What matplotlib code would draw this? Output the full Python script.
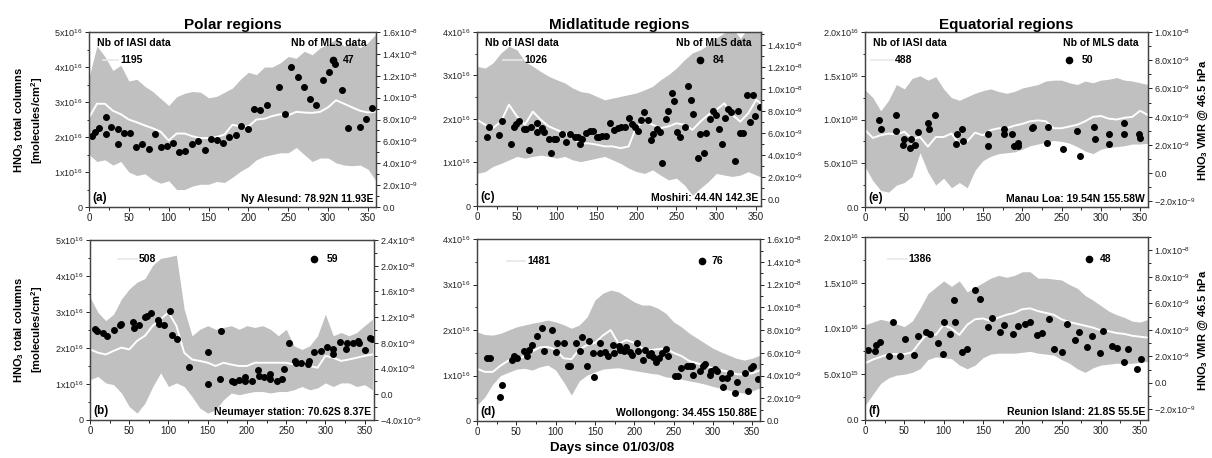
import numpy as np
import matplotlib
matplotlib.use('Agg')
import matplotlib.pyplot as plt
from matplotlib.ticker import MultipleLocator, FuncFormatter

plt.rcParams['font.family'] = ['Liberation Sans', 'DejaVu Sans']
plt.rcParams['mathtext.fontset'] = 'custom'
plt.rcParams['mathtext.rm'] = 'Liberation Sans'
plt.rcParams['mathtext.it'] = 'Liberation Sans:italic'
plt.rcParams['mathtext.bf'] = 'Liberation Sans:bold'

# IASI columns (x1e16 molec/cm2) sampled every 10 days, MLS VMR in ppbv
band_days = list(range(0, 361, 10))

# (a) Ny Alesund
a_up = [3.7, 4.6, 4.3, 3.9, 4.05, 3.6, 3.65, 3.45, 3.3, 3.1, 2.9, 3.15, 3.25, 3.3, 3.28, 3.12, 3.16, 3.28, 3.4,
        3.65, 3.85, 3.78, 4.0, 4.0, 4.12, 4.3, 4.25, 4.45, 4.35, 4.55, 4.65, 4.8, 4.6, 4.7, 4.55, 4.7, 4.95]
a_lo = [1.5, 1.3, 1.35, 1.2, 1.3, 1.0, 0.9, 0.95, 0.78, 0.68, 0.75, 0.5, 0.5, 0.6, 0.65, 0.65, 0.73, 0.7, 0.85,
        1.02, 1.15, 1.35, 1.45, 1.5, 1.55, 1.55, 1.7, 1.5, 1.3, 1.4, 1.4, 1.26, 1.2, 1.18, 1.2, 1.08, 0.75]
a_mean = [2.55, 2.95, 2.95, 2.75, 2.65, 2.5, 2.42, 2.33, 2.25, 2.15, 1.9, 2.1, 2.1, 2.02, 1.97, 1.97, 2.0, 2.07,
          2.35, 2.3, 2.3, 2.5, 2.52, 2.6, 2.65, 2.62, 2.72, 2.7, 2.69, 2.72, 2.85, 3.05, 2.95, 2.85, 2.75, 2.7, 2.73]
a_mls_day = [4, 7, 13, 21, 22, 28, 36, 36, 44, 51, 59, 67, 75, 83, 90, 98, 106, 113, 121, 129, 137, 145, 153,
             161, 168, 176, 184, 191, 199, 207, 215, 223, 239, 246, 254, 262, 270, 277, 285, 293, 301, 309, 317,
             325, 340, 348, 355]
a_mls = [6.5, 6.9, 7.2, 8.2, 6.7, 7.35, 7.1, 5.8, 6.8, 6.8, 5.5, 5.8, 5.3, 6.7, 5.5, 5.55, 5.85, 5.0, 5.15, 5.8,
         6.0, 5.25, 6.2, 6.1, 5.85, 6.4, 6.6, 7.4, 7.1, 9.0, 8.85, 9.3, 11.0, 8.5, 12.8, 11.9, 11.0, 9.9, 9.3,
         11.6, 12.3, 13.1, 10.7, 7.2, 7.35, 8.05, 9.05]

# (b) Neumayer station
b_up = [3.41, 2.99, 2.76, 2.94, 3.36, 3.64, 3.83, 3.93, 4.3, 4.49, 4.53, 4.58, 3.08, 2.34, 2.52, 2.62, 2.52, 2.57,
        2.62, 2.52, 2.62, 2.57, 2.62, 2.52, 2.34, 2.52, 2.06, 1.96, 2.06, 2.34, 2.94, 2.34, 2.43, 2.34, 2.43, 2.62, 2.8]
b_lo = [1.12, 1.21, 1.03, 0.98, 0.75, 0.37, 0.19, 0.47, 0.93, 1.31, 0.93, 1.03, 0.93, 0.65, 0.33, 0.19, 0.28, 0.56,
        0.75, 0.7, 0.75, 0.79, 0.79, 0.75, 0.79, 0.79, 0.84, 0.93, 0.84, 0.89, 1.03, 0.93, 1.03, 1.03, 0.93, 0.98, 0.84]
b_mean = [1.96, 1.87, 1.82, 1.92, 2.01, 1.96, 2.2, 2.34, 2.62, 2.8, 2.99, 2.62, 1.87, 1.68, 1.64, 1.59, 1.5, 1.59,
          1.54, 1.5, 1.5, 1.59, 1.59, 1.59, 1.59, 1.59, 1.54, 1.54, 1.5, 1.45, 1.78, 1.73, 1.64, 1.68, 1.73, 1.78, 1.82]
b_mls_day = [6, 9, 16, 22, 31, 38, 39, 55, 56, 62, 70, 72, 78, 87, 88, 94, 102, 104, 111, 126, 150, 150, 166, 167,
             181, 183, 190, 197, 198, 206, 214, 215, 222, 230, 230, 238, 245, 247, 253, 261, 262, 269, 278, 279,
             285, 294, 302, 310, 310, 318, 326, 327, 335, 341, 343, 351, 357, 359]
b_mls = [10.1, 9.9, 9.5, 9.0, 10.0, 10.8, 10.9, 11.3, 10.3, 10.7, 12.0, 12.1, 12.6, 11.6, 11.0, 10.7, 13.0, 9.2,
         8.6, 4.3, 6.6, 1.6, 2.4, 9.8, 2.1, 1.9, 2.2, 2.7, 2.0, 2.0, 3.7, 2.8, 2.7, 3.1, 2.4, 2.1, 2.4, 3.9, 8.0,
         5.2, 4.8, 4.9, 4.7, 5.2, 6.6, 6.8, 7.3, 6.3, 7.1, 8.1, 7.0, 8.0, 8.0, 8.3, 8.0, 6.9, 8.7, 8.6]

# (c) Moshiri
c_up = [3.21, 3.17, 3.29, 3.52, 3.67, 3.59, 3.32, 3.21, 3.09, 2.98, 2.9, 2.83, 2.71, 2.63, 2.6, 2.52, 2.44, 2.48,
        2.52, 2.56, 2.6, 2.67, 2.75, 2.9, 3.02, 3.17, 3.36, 3.52, 3.59, 3.71, 3.86, 3.98, 4.1, 3.85, 4.1, 4.1, 4.1]
c_lo = [0.75, 0.79, 0.91, 0.98, 1.06, 1.14, 1.1, 1.14, 1.17, 1.14, 1.1, 1.14, 1.06, 1.02, 1.06, 1.1, 1.14, 1.06,
        0.98, 0.87, 0.79, 0.75, 0.83, 0.71, 0.6, 0.64, 0.48, 0.25, 0.41, 0.56, 0.75, 0.71, 0.68, 0.71, 0.79, 0.71, 0.64]
c_mean = [1.98, 1.87, 1.79, 1.94, 2.33, 2.06, 1.87, 2.17, 1.98, 1.83, 1.75, 1.67, 1.56, 1.44, 1.44, 1.41, 1.37,
          1.37, 1.33, 1.37, 1.83, 1.94, 1.87, 1.79, 1.83, 1.9, 1.87, 1.75, 1.94, 2.1, 2.21, 2.36, 2.1, 1.94, 2.13,
          2.44, 2.29]
c_mls_day = [13, 15, 28, 31, 43, 46, 49, 53, 59, 61, 65, 68, 75, 75, 81, 84, 90, 93, 96, 99, 106, 112, 116, 123,
             126, 129, 132, 137, 141, 145, 150, 153, 157, 162, 167, 172, 177, 181, 185, 190, 194, 198, 202, 206,
             209, 214, 218, 221, 225, 229, 232, 237, 239, 244, 247, 251, 255, 261, 264, 268, 271, 277, 280, 284,
             287, 292, 296, 300, 303, 307, 311, 315, 318, 324, 327, 330, 334, 338, 342, 346, 349, 355]
c_mls = [5.7, 6.55, 5.85, 7.15, 5.0, 6.55, 6.85, 7.15, 6.4, 6.4, 4.45, 6.55, 6.1, 6.9, 6.45, 6.1, 5.45, 4.25,
         5.45, 5.45, 5.9, 5.25, 5.9, 5.65, 5.7, 5.05, 5.45, 6.0, 6.25, 6.25, 5.65, 5.65, 5.8, 5.8, 6.9, 6.3, 6.45,
         6.55, 6.6, 7.4, 6.85, 6.6, 6.25, 7.2, 7.9, 7.2, 5.4, 5.95, 6.4, 6.15, 3.3, 7.3, 8.05, 9.65, 8.9, 6.15,
         5.65, 6.6, 10.25, 9.05, 7.75, 3.75, 5.95, 4.25, 6.0, 7.3, 8.0, 7.7, 6.4, 5.05, 7.4, 8.2, 7.9, 3.5, 8.0,
         6.0, 6.0, 9.5, 7.0, 9.5, 7.6, 8.35]

# (d) Wollongong
d_up = [1.96, 1.9, 1.89, 1.93, 2.0, 2.07, 2.11, 2.15, 2.18, 2.22, 2.18, 2.12, 2.04, 2.11, 2.29, 2.66, 2.81, 2.88,
        2.84, 2.73, 2.62, 2.55, 2.55, 2.48, 2.37, 2.18, 2.07, 1.93, 1.82, 1.71, 1.6, 1.52, 1.45, 1.38, 1.34, 1.38, 1.45]
d_lo = [0.35, 0.53, 0.81, 1.0, 1.07, 1.14, 1.16, 1.12, 1.19, 1.23, 1.12, 0.86, 0.57, 0.88, 1.01, 1.08, 1.14, 1.16,
        1.17, 1.14, 1.11, 1.08, 1.05, 1.03, 0.97, 0.95, 0.92, 0.88, 0.85, 0.81, 0.76, 0.72, 0.68, 0.64, 0.61, 0.66, 0.73]
d_mean = [1.15, 1.08, 1.08, 1.22, 1.33, 1.38, 1.41, 1.53, 1.62, 1.63, 1.57, 1.38, 1.36, 1.57, 1.67, 1.72, 1.88,
          2.0, 1.7, 1.78, 1.72, 1.6, 1.56, 1.58, 1.6, 1.5, 1.43, 1.32, 1.27, 1.22, 1.16, 1.12, 1.08, 1.03, 1.02,
          1.05, 1.12]
d_mls_day = [13, 16, 29, 32, 44, 47, 51, 60, 63, 66, 70, 76, 82, 85, 95, 101, 102, 110, 116, 118, 126, 131, 133,
             140, 142, 147, 149, 157, 157, 163, 166, 173, 174, 180, 182, 187, 190, 194, 197, 203, 205, 211, 214,
             219, 221, 224, 228, 231, 235, 241, 243, 252, 256, 259, 267, 271, 274, 275, 283, 288, 290, 296, 298,
             303, 305, 311, 313, 318, 322, 328, 331, 341, 345, 349, 351, 357]
d_mls = [5.55, 5.5, 2.15, 3.2, 5.35, 5.75, 5.55, 6.2, 5.7, 6.25, 6.7, 7.45, 8.2, 6.2, 8.0, 6.1, 6.85, 6.9, 4.85,
         4.85, 6.9, 6.2, 7.35, 4.85, 7.05, 6.0, 3.85, 6.0, 6.85, 6.1, 5.75, 6.7, 6.0, 6.6, 6.25, 6.15, 6.55, 6.1,
         5.85, 6.9, 6.15, 5.4, 6.25, 5.8, 5.95, 5.65, 5.15, 5.5, 5.95, 6.35, 5.75, 4.0, 3.95, 4.65, 4.8, 4.8, 4.8,
         4.05, 4.4, 4.85, 5.05, 4.05, 4.4, 4.55, 4.4, 3.75, 2.95, 3.75, 4.2, 2.5, 3.45, 4.2, 2.65, 4.7, 4.8, 3.7]

# (e) Manau Loa
e_up = [1.34, 1.25, 1.1, 1.22, 1.4, 1.35, 1.47, 1.5, 1.45, 1.49, 1.35, 1.25, 1.22, 1.26, 1.3, 1.33, 1.35, 1.32,
        1.3, 1.32, 1.36, 1.38, 1.4, 1.44, 1.45, 1.45, 1.42, 1.4, 1.44, 1.42, 1.45, 1.46, 1.48, 1.45, 1.44, 1.42, 1.4]
e_lo = [0.46, 0.3, 0.19, 0.17, 0.25, 0.28, 0.35, 0.62, 0.4, 0.25, 0.33, 0.22, 0.28, 0.22, 0.42, 0.53, 0.58, 0.61,
        0.62, 0.63, 0.66, 0.7, 0.72, 0.74, 0.76, 0.75, 0.73, 0.69, 0.64, 0.61, 0.66, 0.68, 0.69, 0.7, 0.72, 0.72, 0.73]
e_mean = [0.88, 0.79, 0.82, 0.84, 0.83, 0.86, 0.78, 0.8, 0.69, 0.8, 0.8, 0.84, 0.72, 0.75, 0.85, 0.82, 0.88, 0.9,
          0.9, 0.93, 0.95, 0.98, 0.99, 0.98, 0.9, 0.9, 0.92, 0.94, 0.98, 1.03, 1.04, 1.01, 1.0, 1.02, 1.03, 1.1, 1.05]
e_mls_day = [18, 20, 40, 40, 48, 49, 57, 59, 63, 67, 80, 82, 89, 116, 117, 124, 125, 156, 156, 177, 177, 187, 189,
             195, 195, 213, 214, 232, 233, 252, 270, 273, 291, 293, 310, 311, 329, 330, 348, 350]
e_mls = [3.75, 3.1, 3.0, 4.1, 2.0, 2.4, 1.75, 2.4, 2.0, 2.95, 3.55, 3.1, 4.1, 2.05, 2.8, 3.1, 2.25, 1.95, 2.8,
         3.15, 2.8, 2.75, 1.95, 1.9, 2.15, 3.2, 3.3, 2.15, 3.25, 1.7, 3.0, 1.25, 3.3, 2.45, 2.05, 2.8, 2.75, 3.55,
         2.8, 2.5]

# (f) Reunion Island
f_up = [1.04, 1.07, 1.1, 1.08, 1.05, 1.02, 1.08, 1.22, 1.38, 1.45, 1.52, 1.46, 1.52, 1.4, 1.45, 1.5, 1.55, 1.58,
        1.56, 1.58, 1.62, 1.62, 1.55, 1.55, 1.54, 1.53, 1.48, 1.44, 1.36, 1.31, 1.25, 1.19, 1.15, 1.12, 1.08, 1.07, 1.1]
f_lo = [0.16, 0.28, 0.4, 0.46, 0.49, 0.5, 0.52, 0.56, 0.66, 0.69, 0.68, 0.67, 0.6, 0.56, 0.6, 0.68, 0.72, 0.73,
        0.73, 0.73, 0.74, 0.75, 0.73, 0.72, 0.71, 0.66, 0.62, 0.56, 0.52, 0.57, 0.6, 0.61, 0.62, 0.62, 0.62, 0.63, 0.64]
f_mean = [0.62, 0.66, 0.69, 0.72, 0.72, 0.72, 0.74, 0.85, 0.95, 0.93, 1.04, 1.0, 0.93, 1.04, 1.1, 1.11, 1.08, 1.12,
          1.15, 1.17, 1.21, 1.22, 1.19, 1.17, 1.15, 1.1, 1.07, 1.05, 1.03, 1.01, 0.98, 0.97, 0.95, 0.94, 0.92, 0.91, 0.9]
f_mls_day = [4, 13, 14, 19, 30, 35, 45, 51, 62, 67, 78, 83, 93, 99, 100, 108, 113, 115, 124, 130, 140, 146, 156,
             162, 172, 177, 188, 194, 203, 210, 219, 225, 234, 241, 250, 257, 267, 272, 282, 289, 299, 303, 314,
             320, 330, 335, 346, 351]
f_mls = [2.5, 2.4, 2.85, 3.05, 2.05, 4.6, 2.05, 3.3, 2.1, 3.55, 3.8, 3.7, 3.0, 2.2, 4.6, 3.7, 6.25, 4.6, 2.35,
         2.55, 7.0, 6.3, 4.2, 4.9, 3.85, 4.35, 3.7, 4.25, 4.4, 4.6, 3.6, 3.75, 4.85, 2.55, 2.3, 4.45, 3.2, 3.85,
         2.7, 3.5, 2.25, 3.9, 2.75, 2.6, 1.6, 2.55, 1.05, 1.8]

panels = [
    dict(tag='(a)', site='Ny Alesund: 78.92N 11.93E', nb_iasi='1195', nb_mls='47',
         up=a_up, lo=a_lo, mean=a_mean, mday=a_mls_day, mls=a_mls,
         pos=[0.0734, 0.548, 0.2368, 0.3821], xmax=360, ylim=(0, 5e16), ymaj=1e16, dec=0,
         rlim=(0, 1.6e-8), rmaj=2e-9, title='Polar regions', head=True, leg=(0.05, 0.10, 0.108, 0.85, 0.885, 0.84)),
    dict(tag='(b)', site='Neumayer station: 70.62S 8.37E', nb_iasi='508', nb_mls='59',
         up=b_up, lo=b_lo, mean=b_mean, mday=b_mls_day, mls=b_mls,
         pos=[0.0743, 0.083, 0.2343, 0.393], xmax=362, ylim=(0, 5e16), ymaj=1e16, dec=0,
         rlim=(-4e-9, 2.4e-8), rmaj=4e-9, title=None, head=False, leg=(0.10, 0.165, 0.17, 0.79, 0.835, 0.894)),
    dict(tag='(c)', site='Moshiri: 44.4N 142.3E', nb_iasi='1026', nb_mls='84',
         up=c_up, lo=c_lo, mean=c_mean, mday=c_mls_day, mls=c_mls,
         pos=[0.3936, 0.5502, 0.2343, 0.380], xmax=356, ylim=(0, 4e16), ymaj=1e16, dec=0,
         rlim=(-0.6e-9, 1.52e-8), rmaj=2e-9, title='Midlatitude regions', head=True,
         leg=(0.09, 0.16, 0.165, 0.785, 0.83, 0.84)),
    dict(tag='(d)', site='Wollongong: 34.45S 150.88E', nb_iasi='1481', nb_mls='76',
         up=d_up, lo=d_lo, mean=d_mean, mday=d_mls_day, mls=d_mls,
         pos=[0.3936, 0.0808, 0.2335, 0.397], xmax=360, ylim=(0, 4e16), ymaj=1e16, dec=0,
         rlim=(0, 1.6e-8), rmaj=2e-9, title=None, head=False, leg=(0.105, 0.17, 0.177, 0.795, 0.83, 0.88)),
    dict(tag='(e)', site='Manau Loa: 19.54N 155.58W', nb_iasi='488', nb_mls='50',
         up=e_up, lo=e_lo, mean=e_mean, mday=e_mls_day, mls=e_mls,
         pos=[0.7137, 0.548, 0.2335, 0.3821], xmax=360, ylim=(0, 2e16), ymaj=5e15, dec=1,
         rlim=(-2.4e-9, 1.0e-8), rmaj=2e-9, title='Equatorial regions', head=True,
         leg=(0.02, 0.10, 0.107, 0.72, 0.767, 0.84)),
    dict(tag='(f)', site='Reunion Island: 21.8S 55.5E', nb_iasi='1386', nb_mls='48',
         up=f_up, lo=f_lo, mean=f_mean, mday=f_mls_day, mls=f_mls,
         pos=[0.7137, 0.083, 0.2335, 0.3996], xmax=360, ylim=(0, 2e16), ymaj=5e15, dec=1,
         rlim=(-2.8e-9, 1.1e-8), rmaj=2e-9, title=None, head=False, leg=(0.08, 0.148, 0.153, 0.79, 0.83, 0.88)),
]


def sci_formatter(dec):
    def fmt(v, pos):
        if v == 0 or abs(v) < 1e-20:
            return '0' if dec == 0 else '0.0'
        e = int(np.floor(np.log10(abs(v)) + 1e-6))
        m = v / 10.0 ** e
        return r'$\mathregular{%.*fx10^{%d}}$' % (dec, m, e)
    return fmt


band_col = '#c0c0c0'
spine_col = '#444444'

fig = plt.figure(figsize=(12.12, 4.58), dpi=100)

for p in panels:
    ax = fig.add_axes(p['pos'])
    days = np.array(band_days)
    ax.fill_between(days, np.array(p['lo']) * 1e16, np.array(p['up']) * 1e16,
                    color=band_col, linewidth=0)
    ax.plot(days, np.array(p['mean']) * 1e16, color='white', lw=1.4)
    ax.set_xlim(0, p['xmax'])
    ax.set_ylim(*p['ylim'])
    ax.xaxis.set_major_locator(MultipleLocator(50))
    ax.xaxis.set_minor_locator(MultipleLocator(25))
    ax.yaxis.set_major_locator(MultipleLocator(p['ymaj']))
    ax.yaxis.set_minor_locator(MultipleLocator(p['ymaj'] / 2))
    ax.yaxis.set_major_formatter(FuncFormatter(sci_formatter(p['dec'])))
    ax.tick_params(axis='x', labelsize=7, length=3, width=0.7, pad=1.5, colors='#222222')
    ax.tick_params(axis='y', labelsize=6.5, length=3, width=0.7, pad=1.5, colors='#222222')
    ax.tick_params(which='minor', length=1.8, width=0.6)

    rax = ax.twinx()
    rax.plot(np.array(p['mday']), np.array(p['mls']) * 1e-9, 'o', color='black', ms=4.0, mec='black')
    rax.set_ylim(*p['rlim'])
    rax.set_xlim(0, p['xmax'])
    rax.yaxis.set_major_locator(MultipleLocator(p['rmaj']))
    rax.yaxis.set_minor_locator(MultipleLocator(p['rmaj'] / 2))
    rax.yaxis.set_major_formatter(FuncFormatter(sci_formatter(1)))
    rax.tick_params(axis='y', labelsize=6.5, length=3, width=0.7, pad=1.5, colors='#222222')
    rax.tick_params(which='minor', length=1.8, width=0.6)

    for a in (ax, rax):
        for s in a.spines.values():
            s.set_color(spine_col)
            s.set_linewidth(0.9)

    if p['title']:
        ax.set_title(p['title'], fontsize=11, fontweight='bold', pad=2)

    x0, x1, xt, dx, dt, ly = p['leg']
    if p['head']:
        ax.text(0.028, 0.965, 'Nb of IASI data', transform=ax.transAxes, fontsize=7.5,
                fontweight='bold', ha='left', va='top')
        ax.text(0.968, 0.965, 'Nb of MLS data', transform=ax.transAxes, fontsize=7.5,
                fontweight='bold', ha='right', va='top')
    ax.plot([x0, x1], [ly, ly], transform=ax.transAxes, color='#e8e8e8', lw=1.2)
    ax.text(xt, ly, p['nb_iasi'], transform=ax.transAxes, fontsize=7.5, fontweight='bold',
            ha='left', va='center')
    rax.plot([dx], [ly], 'o', transform=ax.transAxes, color='black', ms=4.5)
    ax.text(dt, ly, p['nb_mls'], transform=ax.transAxes, fontsize=7.5, fontweight='bold',
            ha='left', va='center')
    ax.text(0.012, 0.015, p['tag'], transform=ax.transAxes, fontsize=8.5, fontweight='bold',
            ha='left', va='bottom')
    ax.text(0.99, 0.015, p['site'], transform=ax.transAxes, fontsize=7.5, fontweight='bold',
            ha='right', va='bottom')

# axis labels
for yc in (0.738, 0.28):
    fig.text(0.0235, yc, 'HNO$_\\mathbf{3}$ total columns\n[molecules/cm$^\\mathbf{2}$]', rotation=90,
             ha='center', va='center', fontsize=8, fontweight='bold', multialignment='center',
             linespacing=1.25)
    fig.text(0.9925, yc, 'HNO$_\\mathbf{3}$ VMR @ 46.5 hPa', rotation=90, ha='center', va='center',
             fontsize=8, fontweight='bold')
fig.text(0.505, 0.022, 'Days since 01/03/08', ha='center', va='center', fontsize=9.5, fontweight='bold')

fig.savefig('out.png', dpi=100)
